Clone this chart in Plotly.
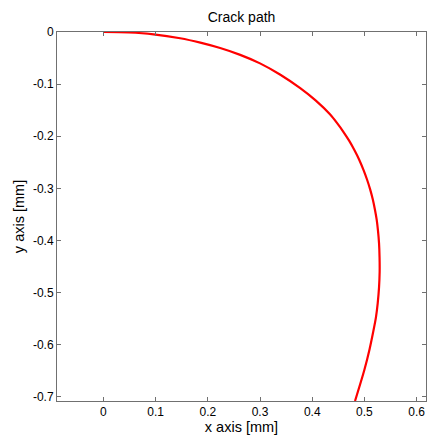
import plotly.graph_objects as go

# Crack path coordinates (mm)
x_mm = [0.0, 0.048, 0.096, 0.147, 0.1856, 0.2236, 0.262, 0.300, 0.339, 0.377,
        0.407, 0.434, 0.447, 0.460, 0.471, 0.481, 0.490, 0.498, 0.505, 0.511,
        0.516, 0.520, 0.5235, 0.526, 0.528, 0.529, 0.5292, 0.528, 0.5255, 0.522,
        0.5165, 0.510, 0.500, 0.482]
y_mm = [0.0, -0.001, -0.0045, -0.012, -0.0205, -0.0308, -0.0439, -0.0602, -0.082, -0.1078,
        -0.1318, -0.158, -0.174, -0.192, -0.209, -0.227, -0.245, -0.264, -0.283, -0.302,
        -0.321, -0.340, -0.360, -0.381, -0.405, -0.432, -0.460, -0.490, -0.520, -0.548,
        -0.577, -0.608, -0.648, -0.708]

x_ticks = [0, 0.1, 0.2, 0.3, 0.4, 0.5, 0.6]
x_tick_labels = ["0", "0.1", "0.2", "0.3", "0.4", "0.5", "0.6"]
y_ticks = [0, -0.1, -0.2, -0.3, -0.4, -0.5, -0.6, -0.7]
y_tick_labels = ["0", "-0.1", "-0.2", "-0.3", "-0.4", "-0.5", "-0.6", "-0.7"]

FONT = "Liberation Sans, Arial, sans-serif"
AX = "#707070"

fig = go.Figure()
fig.add_trace(go.Scatter(x=x_mm, y=y_mm, mode="lines",
                         line=dict(color="#ff0000", width=2.2, shape="spline", smoothing=0.8),
                         hoverinfo="skip", showlegend=False))

axis_common = dict(showline=True, linecolor=AX, linewidth=1, mirror="ticks",
                   ticks="inside", ticklen=4, tickcolor=AX, tickwidth=1,
                   showgrid=False, zeroline=False,
                   tickfont=dict(family=FONT, size=12, color="#000"))

fig.update_layout(
    width=428, height=437,
    margin=dict(l=57, r=2, t=32, b=36, pad=0),
    paper_bgcolor="white", plot_bgcolor="white",
    title=dict(text="Crack path", x=0.5, xanchor="center", y=1 - 17 / 437, yanchor="middle",
               xref="paper",
               font=dict(family=FONT, size=14, color="#000")),
    xaxis=dict(range=[-0.089, 0.618], tickvals=x_ticks, ticktext=x_tick_labels,
               title=dict(text="x axis [mm]", standoff=2,
                          font=dict(family=FONT, size=14.5, color="#000")),
               **axis_common),
    yaxis=dict(range=[-0.708, 0.0], tickvals=y_ticks, ticktext=y_tick_labels,
               title=dict(text="y axis [mm]", standoff=4,
                          font=dict(family=FONT, size=14.5, color="#000")),
               **axis_common),
)

fig.write_html("out.html")
